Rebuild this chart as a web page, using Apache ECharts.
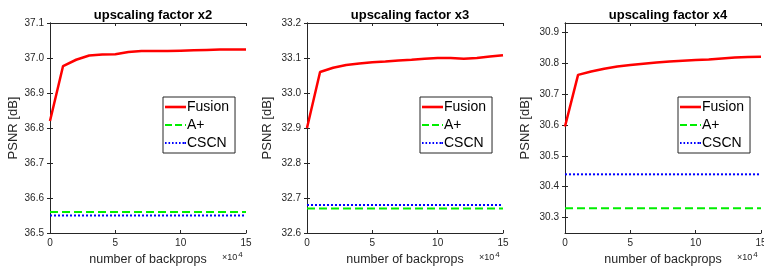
<!DOCTYPE html>
<html>
<head>
<meta charset="utf-8">
<script src="https://cdn.jsdelivr.net/npm/echarts@6/dist/echarts.min.js"></script>
<style>
  html, body { margin: 0; padding: 0; background: #fff; }
  #chart { width: 764px; height: 266px; }
</style>
</head>
<body>
<div id="chart"></div>
<script>
// data (x in units of 10^4 backprops)
const backprops = [0, 1, 2, 3, 4, 5, 6, 7, 8, 9, 10, 11, 12, 13, 14, 15];
const fusionX2 = [36.82, 36.977, 36.995, 37.007, 37.010, 37.011, 37.017, 37.020, 37.020, 37.020, 37.021, 37.022, 37.023, 37.024, 37.024, 37.024];
const fusionX3 = [32.90, 33.060, 33.072, 33.080, 33.084, 33.088, 33.090, 33.093, 33.095, 33.098, 33.100, 33.100, 33.098, 33.100, 33.104, 33.108];
const fusionX4 = [30.595, 30.762, 30.773, 30.782, 30.789, 30.794, 30.798, 30.802, 30.805, 30.808, 30.810, 30.812, 30.815, 30.818, 30.820, 30.821];
const aPlus = [36.56, 32.67, 30.33];
const cscn = [36.55, 32.68, 30.44];
const titles = ['upscaling factor x2', 'upscaling factor x3', 'upscaling factor x4'];
const yMin = [36.5, 32.6, 30.25];
const yMax = [37.1, 33.2, 30.93];
const yTicks = [
  [36.5, 36.6, 36.7, 36.8, 36.9, 37.0, 37.1],
  [32.6, 32.7, 32.8, 32.9, 33.0, 33.1, 33.2],
  [30.3, 30.4, 30.5, 30.6, 30.7, 30.8, 30.9]
];
const legendNames = ['Fusion', 'A+', 'CSCN'];

const fusion = [fusionX2, fusionX3, fusionX4];
const gridLeft = [50, 307, 565];
const gridW = 196;
const font = 'Liberation Sans, Arial, Helvetica, sans-serif';
const ink = '#262626';

// legend glyphs drawn like the line styles (solid / dashed / dotted)
const legendIcons = {
  'Fusion': 'path://M0,0h21v2.6h-21z',
  'A+': 'path://M0,0h7v2.2h-7zM10,0h7v2.2h-7zM20,0h1v2.2h-1z',
  'CSCN': 'path://M0,0h1.6v2h-1.6zM3.5,0h1.6v2h-1.6zM7,0h1.6v2h-1.6zM10.5,0h1.6v2h-1.6zM14,0h1.6v2h-1.6zM17.5,0h1.6v2h-1.6zM19.4,0h1.6v2h-1.6z'
};

let chart = echarts.init(document.getElementById('chart'));

let grid = [], xAxis = [], yAxis = [], series = [], title = [], legend = [];
for (let i = 0; i < 3; i++) {
  grid.push({ left: gridLeft[i], top: 23, width: gridW, height: 210,
    containLabel: false, outerBoundsMode: 'none' });
  // bottom / top x axes
  xAxis.push({
    type: 'value', gridIndex: i, min: 0, max: 15, interval: 5, position: 'bottom',
    name: 'number of backprops', nameLocation: 'middle', nameGap: 17,
    nameTextStyle: { fontFamily: font, fontSize: 12.5, color: ink },
    axisLine: { show: true, lineStyle: { color: ink, width: 1 } },
    axisTick: { show: true, inside: true, length: 3, lineStyle: { color: ink } },
    axisLabel: { fontFamily: font, fontSize: 10, color: ink, margin: 5 },
    splitLine: { show: false }
  });
  xAxis.push({
    type: 'value', gridIndex: i, min: 0, max: 15, interval: 5, position: 'top',
    axisLine: { show: true, lineStyle: { color: ink, width: 1 } },
    axisTick: { show: true, inside: true, length: 3, lineStyle: { color: ink } },
    axisLabel: { show: false }, splitLine: { show: false }
  });
  yAxis.push({
    type: 'value', gridIndex: i, min: yMin[i], max: yMax[i], position: 'left',
    name: 'PSNR [dB]', nameLocation: 'middle', nameRotate: 90,
    nameGap: i === 0 ? 30 : 33,
    nameTextStyle: { fontFamily: font, fontSize: 13, color: ink },
    axisLine: { show: true, lineStyle: { color: ink, width: 1 } },
    axisTick: { show: true, inside: true, length: 3, customValues: yTicks[i], lineStyle: { color: ink } },
    axisLabel: { fontFamily: font, fontSize: 10, color: ink, margin: 6, customValues: yTicks[i],
      formatter: v => v.toFixed(1) },
    splitLine: { show: false }
  });
  yAxis.push({
    type: 'value', gridIndex: i, min: yMin[i], max: yMax[i], position: 'right',
    axisLine: { show: true, lineStyle: { color: ink, width: 1 } },
    axisTick: { show: true, inside: true, length: 3, customValues: yTicks[i], lineStyle: { color: ink } },
    axisLabel: { show: false }, splitLine: { show: false }
  });

  series.push({
    name: 'Fusion', type: 'line', xAxisIndex: 2 * i, yAxisIndex: 2 * i,
    data: backprops.map((x, k) => [x, fusion[i][k]]),
    showSymbol: false, symbol: 'none', z: 3,
    lineStyle: { color: '#ff0000', width: 2.5 }, itemStyle: { color: '#ff0000' }
  });
  series.push({
    name: 'A+', type: 'line', xAxisIndex: 2 * i, yAxisIndex: 2 * i,
    data: [[backprops[0], aPlus[i]], [backprops[backprops.length - 1], aPlus[i]]],
    showSymbol: false, symbol: 'none',
    lineStyle: { color: '#00ee00', width: 2, type: [8, 4] }, itemStyle: { color: '#00ee00' }
  });
  series.push({
    name: 'CSCN', type: 'line', xAxisIndex: 2 * i, yAxisIndex: 2 * i,
    data: [[backprops[0], cscn[i]], [backprops[backprops.length - 1], cscn[i]]],
    showSymbol: false, symbol: 'none',
    lineStyle: { color: '#0000ff', width: 2, type: [2, 2] }, itemStyle: { color: '#0000ff' }
  });

  title.push({
    text: titles[i], left: gridLeft[i] + gridW / 2, top: 4, textAlign: 'center',
    textStyle: { fontFamily: font, fontSize: 13, fontWeight: 'bold', color: '#000' }
  });
  title.push({
    text: '×10{sup|4}', left: gridLeft[i] + gridW - 24, top: 251, padding: 0,
    textStyle: { fontFamily: font, fontSize: 9, fontWeight: 'normal', color: ink,
      rich: { sup: { fontSize: 8, verticalAlign: 'top', padding: [0, 0, 6, 1], color: ink } } }
  });

  legend.push({
    data: legendNames.map(n => ({ name: n, icon: legendIcons[n] })),
    orient: 'vertical',
    left: gridLeft[i] + gridW - 83, top: 97,
    itemWidth: 21, itemHeight: 10, itemGap: 4,
    padding: [3, 6, 3, 2],
    borderColor: ink, borderWidth: 1, backgroundColor: '#fff',
    textStyle: { fontFamily: font, fontSize: 14, color: '#000', padding: [0, 0, 0, -4] },
    selectedMode: false
  });
}

chart.setOption({
  animation: false,
  backgroundColor: '#fff',
  title: title,
  legend: legend,
  grid: grid,
  xAxis: xAxis,
  yAxis: yAxis,
  series: series
});
</script>
</body>
</html>
